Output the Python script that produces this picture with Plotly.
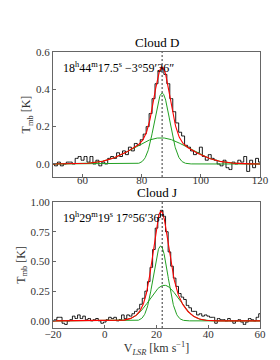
import numpy as np
import plotly.graph_objects as go

# ---------------- Data ----------------
# Cloud D spectrum (1 km/s channels, 50..120 km/s)
vel_D = list(range(50, 121))
tmb_D = [0.00, -0.01, 0.01, -0.01, 0.00, 0.01, 0.01, 0.00, 0.03, 0.04,
         0.02, 0.04, 0.01, 0.04, 0.00, 0.02, -0.01, 0.01, 0.00, 0.03,
         0.04, 0.03, 0.06, 0.04, 0.07, 0.05, 0.09, 0.07, 0.11, 0.10,
         0.13, 0.16, 0.20, 0.27, 0.35, 0.43, 0.50, 0.51, 0.48, 0.43,
         0.35, 0.28, 0.22, 0.17, 0.15, 0.10, 0.09, 0.07, 0.05, 0.06,
         0.09, 0.04, 0.02, 0.05, 0.03, 0.02, 0.00, -0.01, 0.02, -0.02,
         -0.03, 0.01, 0.00, 0.02, 0.01, 0.04, -0.04, 0.02, -0.02, 0.03,
         0.01]
# Gaussian fit components for Cloud D: amplitude, centre, sigma
amp_D = [0.38, 0.14]
cen_D = [86.9, 86.5]
sig_D = [2.6, 9.3]
vsys_D = 86.9
label_D = "18<sup>h</sup>44<sup>m</sup>17.5<sup>s</sup> −3°59′36″"

# Cloud J spectrum (1 km/s channels, -20..60 km/s)
vel_J = list(range(-20, 61))
tmb_J = [0.00, 0.01, 0.03, 0.03, -0.02, -0.03, 0.00, 0.01, 0.04, 0.02,
         0.05, 0.02, 0.04, 0.01, 0.02, 0.00, 0.01, 0.02, 0.00, -0.02,
         -0.01, 0.01, 0.03, 0.02, 0.03, 0.00, 0.01, 0.05, 0.02, 0.05,
         0.04, 0.06, 0.08, 0.10, 0.14, 0.19, 0.25, 0.33, 0.45, 0.60,
         0.78, 0.87, 0.93, 0.88, 0.75, 0.58, 0.46, 0.36, 0.29, 0.23,
         0.20, 0.18, 0.13, 0.11, 0.08, 0.08, 0.05, 0.06, 0.04, 0.05,
         0.04, 0.03, 0.03, -0.02, 0.02, 0.01, 0.01, 0.00, 0.02, 0.00,
         -0.02, 0.00, 0.01, -0.01, -0.03, -0.01, 0.02, 0.01, 0.00, 0.03,
         0.06]
amp_J = [0.63, 0.30]
cen_J = [21.6, 23.0]
sig_J = [2.8, 5.6]
vsys_J = 22.2
label_J = "19<sup>h</sup>29<sup>m</sup>19<sup>s</sup> 17°56′36″"

titles = ["Cloud D", "Cloud J"]
xranges = [[50, 120], [-20, 60]]
yranges = [[-0.07, 0.6], [-0.06, 1.0]]
xticks = [[60, 80, 100, 120], [-20, 0, 20, 40, 60]]
yticks = [[0.0, 0.2, 0.4, 0.6], [0.0, 0.25, 0.5, 0.75, 1.0]]
yfmt = [".1f", ".2f"]

FONT = "Liberation Serif"
GREEN = "#22a022"
FRAME = "#666666"


def gauss(v, a, c, s):
    return a * np.exp(-0.5 * ((v - c) / s) ** 2)


fig = go.Figure()
panels = [
    (vel_D, tmb_D, amp_D, cen_D, sig_D, vsys_D, label_D),
    (vel_J, tmb_J, amp_J, cen_J, sig_J, vsys_J, label_J),
]
domains = [[0.547, 1.0], [0.0, 0.4565]]

for i, (vel, tmb, amps, cens, sigs, vsys, lab) in enumerate(panels):
    xa = "x" if i == 0 else "x2"
    ya = "y" if i == 0 else "y2"
    fig.add_trace(go.Scatter(x=vel, y=tmb, mode="lines", line=dict(color="black", width=0.9, shape="hvh"),
                             xaxis=xa, yaxis=ya, showlegend=False))
    vfine = np.linspace(xranges[i][0], xranges[i][1], 600)
    total = np.zeros_like(vfine)
    for a, c, s in zip(amps, cens, sigs):
        g = gauss(vfine, a, c, s)
        total += g
        fig.add_trace(go.Scatter(x=vfine, y=g, mode="lines", line=dict(color=GREEN, width=1),
                                 xaxis=xa, yaxis=ya, showlegend=False))
    fig.add_trace(go.Scatter(x=vfine, y=total, mode="lines", line=dict(color="red", width=1.1),
                             xaxis=xa, yaxis=ya, showlegend=False))
    fig.add_shape(type="line", xref=xa, yref=ya + " domain", x0=vsys, x1=vsys, y0=0, y1=1,
                  line=dict(color="black", width=0.8, dash="2px,2px"))
    fig.add_annotation(text=titles[i], xref=xa + " domain", yref=ya + " domain", x=0.5, y=1.0,
                       yanchor="bottom", yshift=0, showarrow=False,
                       font=dict(size=13, color="black", family=FONT))
    fig.add_annotation(text=lab, xref=xa + " domain", yref=ya + " domain", x=0.04, y=0.95,
                       xanchor="left", yanchor="top", showarrow=False,
                       font=dict(size=12, color="black", family=FONT))

axis_common = dict(showline=True, linecolor=FRAME, linewidth=1, mirror=True, ticks="inside",
                   ticklen=3, tickcolor=FRAME, showgrid=False, zeroline=False,
                   tickfont=dict(size=11, color="#333", family=FONT))

fig.update_layout(
    width=280, height=360,
    margin=dict(l=35, r=28, t=44, b=40),
    plot_bgcolor="white", paper_bgcolor="white",
    font=dict(family=FONT, color="black"),
    xaxis=dict(domain=[0, 1], range=xranges[0], tickvals=xticks[0], anchor="y",
               ticklabelstandoff=-7, **axis_common),
    yaxis=dict(domain=domains[0], range=yranges[0], tickvals=yticks[0], tickformat=yfmt[0], anchor="x",
               title=dict(text="T<sub>mb</sub> [K]", font=dict(size=12, color="#333", family=FONT), standoff=2),
               **axis_common),
    xaxis2=dict(domain=[0, 1], range=xranges[1], tickvals=xticks[1], anchor="y2",
                ticklabelstandoff=-4,
                title=dict(text="V<sub><i>LSR</i></sub> [km s<sup>−1</sup>]", font=dict(size=12, color="#333", family=FONT), standoff=0),
                **axis_common),
    yaxis2=dict(domain=domains[1], range=yranges[1], tickvals=yticks[1], tickformat=yfmt[1], anchor="x2",
                title=dict(text="T<sub>mb</sub> [K]", font=dict(size=12, color="#333", family=FONT), standoff=2),
                **axis_common),
)

fig.write_html("out.html")
